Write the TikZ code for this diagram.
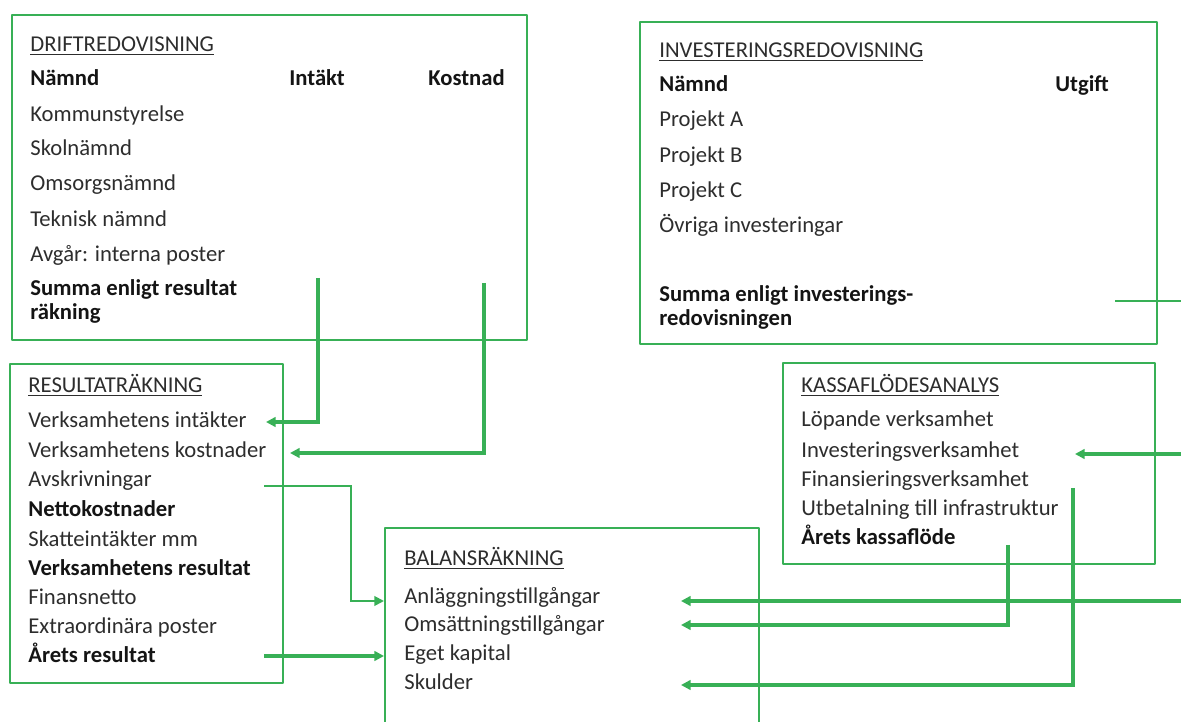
\documentclass[tikz,border=0pt]{standalone}
\usepackage{fontspec}
\setmainfont{Carlito}
\usetikzlibrary{arrows.meta}
\definecolor{boxgreen}{RGB}{56,176,86}
\definecolor{txtgray}{RGB}{45,45,45}
\tikzset{
    box/.style={draw=boxgreen, line width=1.5pt, line join=round},
    item/.style={anchor=base west, inner sep=0pt, text=txtgray, font=\fontsize{12.9}{15}\selectfont},
    itembold/.style={item, text=black!92, font=\fontsize{12.9}{15}\selectfont\bfseries},
    arr/.style={draw=boxgreen, line width=1.9pt, -{Triangle[length=5.5pt,width=5.5pt]}},
    arrthin/.style={arr, line width=1.1pt, -{Triangle[length=5.5pt,width=5.5pt]}},
    link/.style={draw=boxgreen, line width=1.2pt}
}
\begin{document}
\begin{tikzpicture}[x=0.02cm, y=-0.02cm]
    \useasboundingbox (0,0) rectangle (1181,722);
    
    % Driftredovisning
    \draw[box] (12,15) rectangle (527,340);
    \node[item] (dHead) at (30,52) {\underline{DRIFTREDOVISNING}};
    \node[itembold] (dNamnd) at (30,86) {Nämnd};
    \node[itembold] (dIntakt) at (289,86) {Intäkt};
    \node[itembold] (dKostnad) at (428,86) {Kostnad};
    \node[item] (dKs) at (30,122) {Kommunstyrelse};
    \node[item] (dSkol) at (30,156) {Skolnämnd};
    \node[item] (dOms) at (30,191) {Omsorgsnämnd};
    \node[item] (dTek) at (30,227) {Teknisk nämnd};
    \node[item] (dAvg) at (30,262) {Avgår: interna poster};
    \node[itembold] (dSumma) at (30,296) {Summa enligt resultat};
    \node[itembold] (dSumma2) at (30,320) {räkning};
    
    % Investeringsredovisning
    \draw[box] (640,22) rectangle (1157,344);
    \node[item] (iHead) at (659,58) {\underline{INVESTERINGSREDOVISNING}};
    \node[itembold] (iNamnd) at (659,92) {Nämnd};
    \node[itembold] (iUtgift) at (1055,92) {Utgift};
    \node[item] (iProjA) at (659,127) {Projekt A};
    \node[item] (iProjB) at (659,163) {Projekt B};
    \node[item] (iProjC) at (659,198) {Projekt C};
    \node[item] (iOvr) at (659,233) {Övriga investeringar};
    \node[itembold] (iSumma) at (659,302) {Summa enligt investerings-};
    \node[itembold] (iSumma2) at (659,326) {redovisningen};
    
    % Resultaträkning
    \draw[box] (10,364) rectangle (283,683);
    \node[item] (rHead) at (28,393) {\underline{RESULTATRÄKNING}};
    \node[item] (rIntakter) at (28,428) {Verksamhetens intäkter};
    \node[item] (rKostnader) at (28,458) {Verksamhetens kostnader};
    \node[item] (rAvskr) at (28,487) {Avskrivningar};
    \node[itembold] (rNetto) at (28,517) {Nettokostnader};
    \node[item] (rSkatt) at (28,547) {Skatteintäkter mm};
    \node[itembold] (rVres) at (28,576) {Verksamhetens resultat};
    \node[item] (rFinans) at (28,605) {Finansnetto};
    \node[item] (rExtra) at (28,634) {Extraordinära poster};
    \node[itembold] (rArets) at (28,663) {Årets resultat};
    
    % Kassaflödesanalys
    \draw[box] (783,363) rectangle (1155,564);
    \node[item] (kHead) at (801,393) {\underline{KASSAFLÖDESANALYS}};
    \node[item] (kLop) at (801,427) {Löpande verksamhet};
    \node[item] (kInv) at (801,458) {Investeringsverksamhet};
    \node[item] (kFin) at (801,487) {Finansieringsverksamhet};
    \node[item] (kUtb) at (801,516) {Utbetalning till infrastruktur};
    \node[itembold] (kArets) at (801,545) {Årets kassaflöde};
    
    % Balansräkning (runs off the bottom edge)
    \draw[box] (385,730) -- (385,528) -- (759,528) -- (759,730);
    \node[item] (bHead) at (404,566) {\underline{BALANSRÄKNING}};
    \node[item] (bAnl) at (404,604) {Anläggningstillgångar};
    \node[item] (bOms) at (404,632) {Omsättningstillgångar};
    \node[item] (bEget) at (404,661) {Eget kapital};
    \node[item] (bSkuld) at (404,690) {Skulder};
    
    % connector ends
    \coordinate (dIn) at (318,278);
    \coordinate (dKo) at (484,283);
    \coordinate (rIn) at (266,422);
    \coordinate (rKo) at (290,453);
    \coordinate (rAv) at (264,486);
    \coordinate (rAr) at (264,656);
    \coordinate (bAnL) at (384,601);
    \coordinate (bEkL) at (384,656);
    \coordinate (bAnR) at (681,601);
    \coordinate (bOmR) at (681,625);
    \coordinate (bSkR) at (681,685);
    \coordinate (iSum) at (1115,301);
    \coordinate (iOut) at (1185,301);
    \coordinate (kInvR) at (1075,454);
    \coordinate (kIn) at (1185,454);
    \coordinate (kFinS) at (1073,488);
    \coordinate (kArS) at (1008,545);
    \coordinate (bIn) at (1185,601);
    
    % Flows
    \draw[arr] (dIn) |- (rIn);
    \draw[arr] (dKo) |- (rKo);
    \draw[arrthin] (rAv) -- ++(87,0) |- (bAnL);
    \draw[arr] (rAr) -- (bEkL);
    \draw[link] (iSum) -- (iOut);
    \draw[arr] (kIn) -- (kInvR);
    \draw[arr] (bIn) -- (bAnR);
    \draw[arr] (kArS) |- (bOmR);
    \draw[arr] (kFinS) |- (bSkR);
        
\end{tikzpicture}
\end{document}
